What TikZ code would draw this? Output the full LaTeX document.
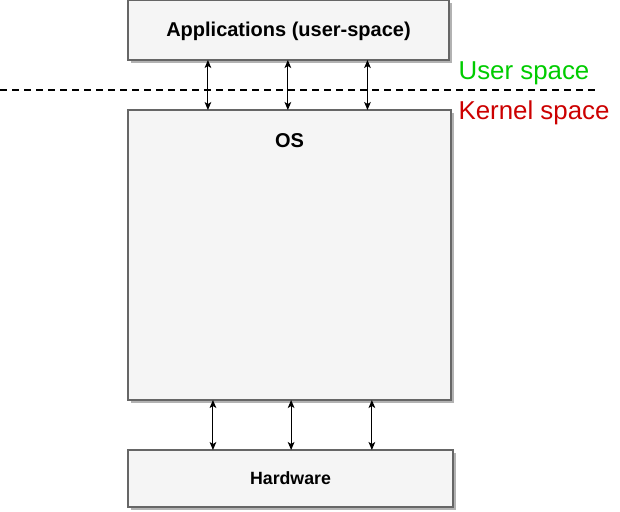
\documentclass[tikz,border=0pt]{standalone}
\usepackage{fontspec}
\setmainfont{Liberation Sans}
\usetikzlibrary{arrows.meta,calc,shadows}
\definecolor{boxfill}{HTML}{F5F5F5}
\definecolor{boxline}{HTML}{666666}
\definecolor{usergreen}{HTML}{00CC00}
\definecolor{kernelred}{HTML}{CC0000}
\begin{document}
\begin{tikzpicture}[x=0.75pt,y=-0.75pt,
  blk/.style={draw=boxline,fill=boxfill,line width=0.9pt,inner sep=0pt,outer sep=0pt,anchor=north west,
    drop shadow={shadow xshift=2pt,shadow yshift=-2pt,fill=black!30,opacity=1}},
  lbl/.style={font=\bfseries\fontsize{15}{18}\selectfont},
  conn/.style={draw=black,line width=0.8pt,{Stealth[length=6pt,width=5pt,inset=1.5pt]}-{Stealth[length=6pt,width=5pt,inset=1.5pt]}},
  sep/.style={draw=black,line width=1.4pt,dash pattern=on 5pt off 4pt},
  zone/.style={font=\fontsize{19.4}{22}\selectfont}]
\useasboundingbox (0,0) rectangle (620,511);
\node[blk,minimum width=240.75pt,minimum height=45pt] (app) at (128,0) {};
\node[lbl] (applbl) at (288.5,31) {Applications (user-space)};
\node[blk,minimum width=242.25pt,minimum height=217.5pt] (os) at (128,110) {};
\node[lbl] (oslbl) at (289.5,141) {OS};
\node[blk,minimum width=243.75pt,minimum height=42.75pt] (hw) at (128,450) {};
\node[lbl,font=\bfseries\fontsize{13.3}{16}\selectfont] (hwlbl) at (hw.center) {Hardware};
\coordinate (dl) at (0,90);
\coordinate (dr) at (597,90);
\draw[sep] (dl) -- (dr);
\node[zone,text=usergreen] (us) at (524,73) {User space};
\node[zone,text=kernelred] (ks) at (534,113) {Kernel space};
\foreach \f [count=\i] in {0.249,0.498,0.746}{
  \coordinate (ta\i) at ($(app.south west)!\f!(app.south east)$);
  \draw[conn] (ta\i) -- (ta\i |- os.north);
}
\foreach \f [count=\i] in {0.263,0.505,0.755}{
  \coordinate (tb\i) at ($(os.south west)!\f!(os.south east)$);
  \draw[conn] (tb\i) -- (tb\i |- hw.north);
}
\end{tikzpicture}
\end{document}
